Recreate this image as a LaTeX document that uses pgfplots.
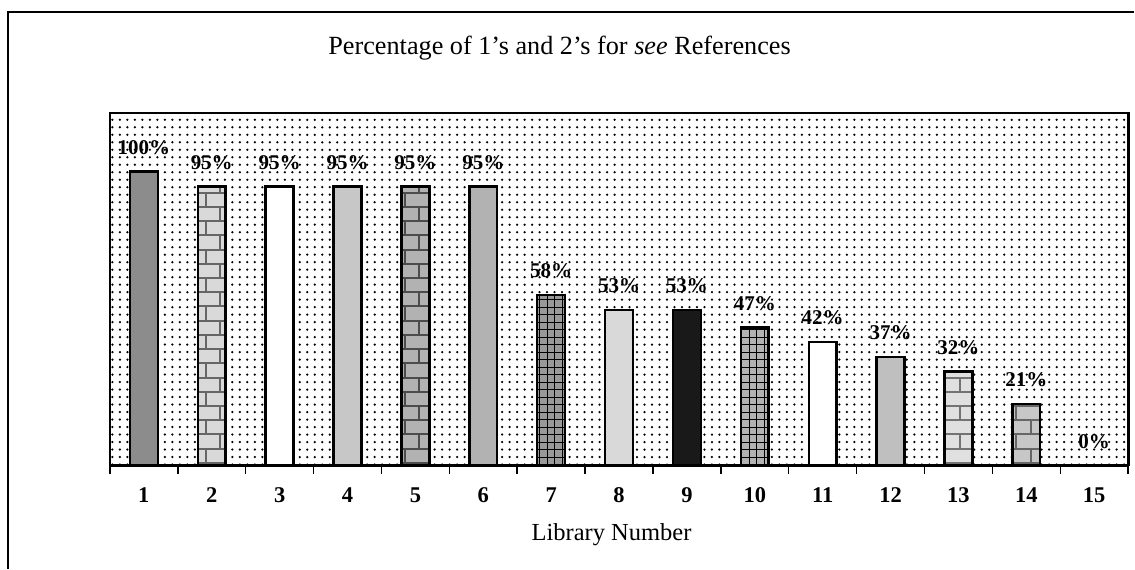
\documentclass[border=0pt]{standalone}
\usepackage{pgfplots}
\pgfplotsset{compat=1.18}
\usepackage{fontspec}
\setmainfont{Liberation Serif}
\usetikzlibrary{patterns}
\begin{document}
\begin{tikzpicture}
\begin{axis}[
  at={(0,0)}, anchor=south west,
  scale only axis, width=407.6pt, height=141.2pt,
  xmin=0.5, xmax=15.5, ymin=0, ymax=120,
  axis line style={line width=1.1pt},
  axis background/.style={pattern=dots, pattern color=black},
  ytick=\empty,
  xtick={0.5,1.5,...,15.5},
  x tick label as interval,
  xticklabels={\textbf{1},\textbf{2},\textbf{3},\textbf{4},\textbf{5},\textbf{6},\textbf{7},\textbf{8},\textbf{9},\textbf{10},\textbf{11},\textbf{12},\textbf{13},\textbf{14},\textbf{15}},
  xticklabel style={font=\fontsize{9}{10}\selectfont, yshift=-2pt},
  tick align=outside, major tick length=3.4pt,
  xtick style={line width=0.6pt, black},
  axis x line*=bottom,
  ybar, bar width=0.41, bar shift=0pt,
  every axis plot/.append style={line width=1pt, draw=black},
  /pgf/number format/assume math mode=true,
  nodes near coords={\pgfmathprintnumber{\pgfplotspointmeta}\%},
  nodes near coords style={font=\bfseries\fontsize{8.4}{9}\selectfont, anchor=south, yshift=3pt, black},
  clip=false,
]
\addplot[fill=black!45] coordinates {(1,100)};
\addplot[fill=black!15, postaction={pattern=bricks, pattern color=black!60}] coordinates {(2,95)};
\addplot[fill=white] coordinates {(3,95)};
\addplot[fill=black!22] coordinates {(4,95)};
\addplot[fill=black!30, postaction={pattern=bricks, pattern color=black!70}] coordinates {(5,95)};
\addplot[fill=black!30] coordinates {(6,95)};
\addplot[fill=black!40, postaction={pattern=grid, pattern color=black}] coordinates {(7,58)};
\addplot[fill=black!15] coordinates {(8,53)};
\addplot[fill=black!90] coordinates {(9,53)};
\addplot[fill=black!30, postaction={pattern=grid, pattern color=black}] coordinates {(10,47)};
\addplot[fill=white] coordinates {(11,42)};
\addplot[fill=black!25] coordinates {(12,37)};
\addplot[fill=black!12, postaction={pattern=bricks, pattern color=black!55}] coordinates {(13,32)};
\addplot[fill=black!22, postaction={pattern=bricks, pattern color=black!60}] coordinates {(14,21)};
\addplot[draw=none, fill=none] coordinates {(15,0)};
\draw[line width=1.1pt] (rel axis cs:0,0) -- (rel axis cs:0,1) -- (rel axis cs:1,1) -- (rel axis cs:1,0);
\end{axis}
\node[font=\fontsize{10.5}{12}\selectfont] at (180pt,167.2pt) {Percentage of 1's and 2's for \textit{see} References};
\node[font=\fontsize{9.8}{11}\selectfont] at (200.8pt,-27.6pt) {Library Number};
\draw[line width=0.7pt] (-40.8pt,-41.2pt) -- (-40.8pt,181.6pt) -- (410pt,181.6pt);
\useasboundingbox (-44pt,-41.2pt) rectangle (410pt,186.4pt);
\end{tikzpicture}
\end{document}
